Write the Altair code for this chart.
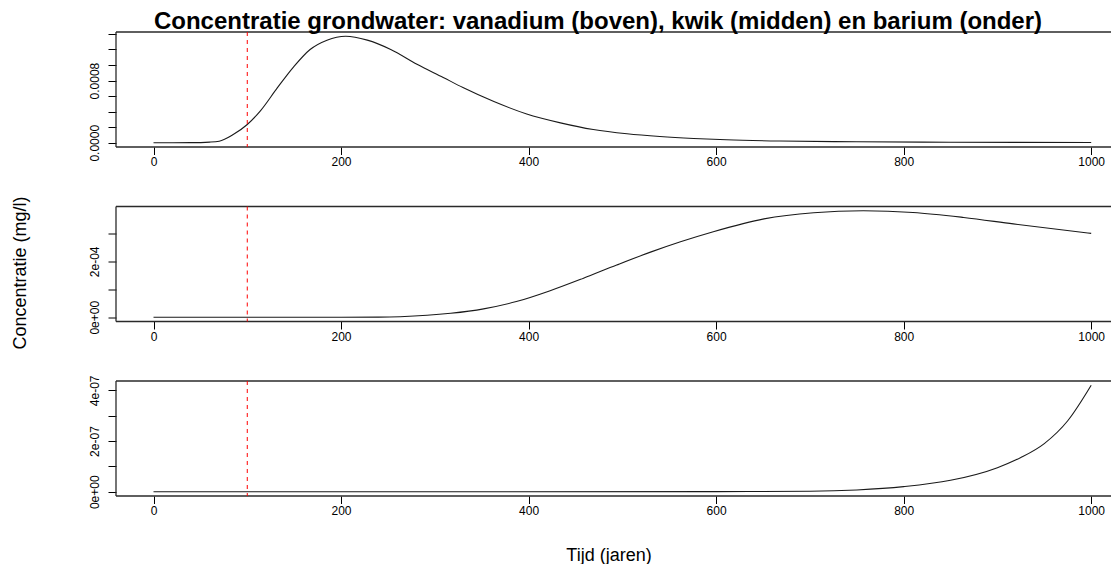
import altair as alt
import pandas as pd

TITLE = "Concentratie grondwater: vanadium (boven), kwik (midden) en barium (onder)"
Y_TITLE = "Concentratie (mg/l)"
X_TITLE = "Tijd (jaren)"
FONT = "Liberation Sans, Arial, sans-serif"

# vanadium (top panel)
vanadium_t = [0, 40, 60, 70, 85, 100, 114, 132, 149, 167, 185, 205, 228, 253, 281,
              309, 330, 363, 398, 434, 469, 505, 540, 576, 611, 668, 750, 850, 1000]
vanadium_v = [0, 0.000001, 0.000008, 0.00002, 0.000106, 0.000235, 0.00041, 0.000705,
              0.00097, 0.0012, 0.00132, 0.00137, 0.00132, 0.0012, 0.00101, 0.00084,
              0.00071, 0.00053, 0.00037, 0.000256, 0.00017, 0.000115, 0.00008,
              0.000055, 0.000038, 0.000022, 0.000012, 0.000007, 0.000003]

# kwik (middle panel)
kwik_t = [0, 157, 200, 240, 263, 317, 352, 387, 423, 458, 494, 530, 562, 597, 651,
          704, 757, 810, 864, 917, 1000]
kwik_v = [0, 0, 0, 0.0000005, 0.000002, 0.000014, 0.00003, 0.000056, 0.000095,
          0.000139, 0.000187, 0.000233, 0.00027, 0.000306, 0.000352, 0.000374,
          0.000381, 0.000375, 0.000357, 0.000334, 0.0003]

# barium (bottom panel)
barium_t = [0, 600, 700, 750, 800, 850, 900, 925, 950, 975, 1000]
barium_v = [0, 5e-10, 2e-9, 7e-9, 2e-8, 4.5e-8, 9.5e-8, 1.35e-7, 1.9e-7, 2.8e-7, 4.2e-7]

x_ticks = [0, 200, 400, 600, 800, 1000]
van_ticks = [0, 0.0002, 0.0004, 0.0006, 0.0008, 0.0010, 0.0012, 0.0014]
van_labels = ["0.0000", "", "", "", "0.0008", "", "", ""]
kwik_ticks = [0, 1e-4, 2e-4, 3e-4]
kwik_labels = ["0e+00", "", "2e-04", ""]
bar_ticks = [0, 1e-7, 2e-7, 3e-7, 4e-7]
bar_labels = ["0e+00", "", "2e-07", "", "4e-07"]
event_t = [100]

W, H = 990, 115
FRAME_EXTRA = 5  # box lines continue a little to the right of the plot area
X_DOMAIN = [-40, 1015.8]


def label_expr(ticks, labels):
    eps = (ticks[1] - ticks[0]) / 100
    expr = "''"
    for v, lab in reversed(list(zip(ticks, labels))):
        expr = f"abs(datum.value - ({v!r})) < {eps!r} ? '{lab}' : ({expr})"
    return expr


def panel(t, v, ticks, labels, xtitle=False, ytitle=False, title=False):
    df = pd.DataFrame({"t": t, "v": v})
    lo, hi = min(v), max(v)
    r = hi - lo
    ydom = [lo - 0.04 * r, hi + 0.04 * r]
    xscale = alt.Scale(domain=X_DOMAIN, nice=False, zero=False)
    yscale = alt.Scale(domain=ydom, nice=False, zero=False)

    xa = dict(values=x_ticks, format="d", domain=False, grid=False, tickSize=7.5,
              tickColor="black", labelFontSize=12, labelPadding=2, labelColor="black",
              labelFont=FONT, labelFlush=False)
    if xtitle:
        xa.update(title=X_TITLE, titleFontSize=18, titleFont=FONT, titleFontWeight="normal",
                  titleColor="black", titleX=492.5, titleY=64, titleAlign="center",
                  titleBaseline="alphabetic")
    else:
        xa.update(title=None)
    ya = dict(values=ticks, labelExpr=label_expr(ticks, labels), domain=False, grid=False,
              tickSize=8, tickColor="black", labelFontSize=12, labelPadding=10,
              labelColor="black", labelFont=FONT, labelAngle=270, labelAlign="center",
              labelBaseline="alphabetic", labelFlush=False, labelOverlap=False)
    if ytitle:
        ya.update(title=Y_TITLE, titleFontSize=18, titleFont=FONT, titleFontWeight="normal",
                  titleColor="black", titleAngle=270, titleX=-91, titleY=66,
                  titleAlign="center", titleBaseline="alphabetic")
    else:
        ya.update(title=None)

    X = alt.X("t:Q", scale=xscale, axis=alt.Axis(**xa))
    Y = alt.Y("v:Q", scale=yscale, axis=alt.Axis(**ya))

    line = alt.Chart(df).mark_line(stroke="#1a1a1a", strokeWidth=1.1,
                                   interpolate="monotone").encode(x=X, y=Y)
    red = alt.Chart(alt.Data(values=[{"t": e} for e in event_t])).mark_rule(
        stroke="#ff0000", color="#ff0000", strokeDash=[4, 4], strokeWidth=1).encode(x=X)
    top = alt.Chart(alt.Data(values=[{"v": ydom[1]}])).mark_rule(
        stroke="#2a2a2a", strokeWidth=1.3).encode(
        y=Y, x=alt.value(0), x2=alt.value(W + FRAME_EXTRA))
    bottom = alt.Chart(alt.Data(values=[{"v": ydom[0]}])).mark_rule(
        stroke="#2a2a2a", strokeWidth=1.3).encode(
        y=Y, x=alt.value(0), x2=alt.value(W + FRAME_EXTRA))
    left = alt.Chart(alt.Data(values=[{"t": X_DOMAIN[0]}])).mark_rule(
        stroke="#2a2a2a", strokeWidth=1.3).encode(x=X)

    props = dict(width=W, height=H)
    if title:
        props["title"] = alt.TitleParams(TITLE, fontSize=24, font=FONT, fontWeight="bold",
                                         color="black", anchor="middle", frame="group",
                                         offset=-2.5, dx=-13)
    return alt.layer(line, top, bottom, left, red).properties(**props)


p1 = panel(vanadium_t, vanadium_v, van_ticks, van_labels, title=True)
p2 = panel(kwik_t, kwik_v, kwik_ticks, kwik_labels, ytitle=True)
p3 = panel(barium_t, barium_v, bar_ticks, bar_labels, xtitle=True)

chart = alt.vconcat(p1, p2, p3, spacing=59.5, bounds="flush").properties(
    padding={"left": 3, "top": 1, "right": 0, "bottom": 0}
).configure_view(stroke=None)

chart.save("out.html", embed_options={"renderer": "svg", "actions": False})
